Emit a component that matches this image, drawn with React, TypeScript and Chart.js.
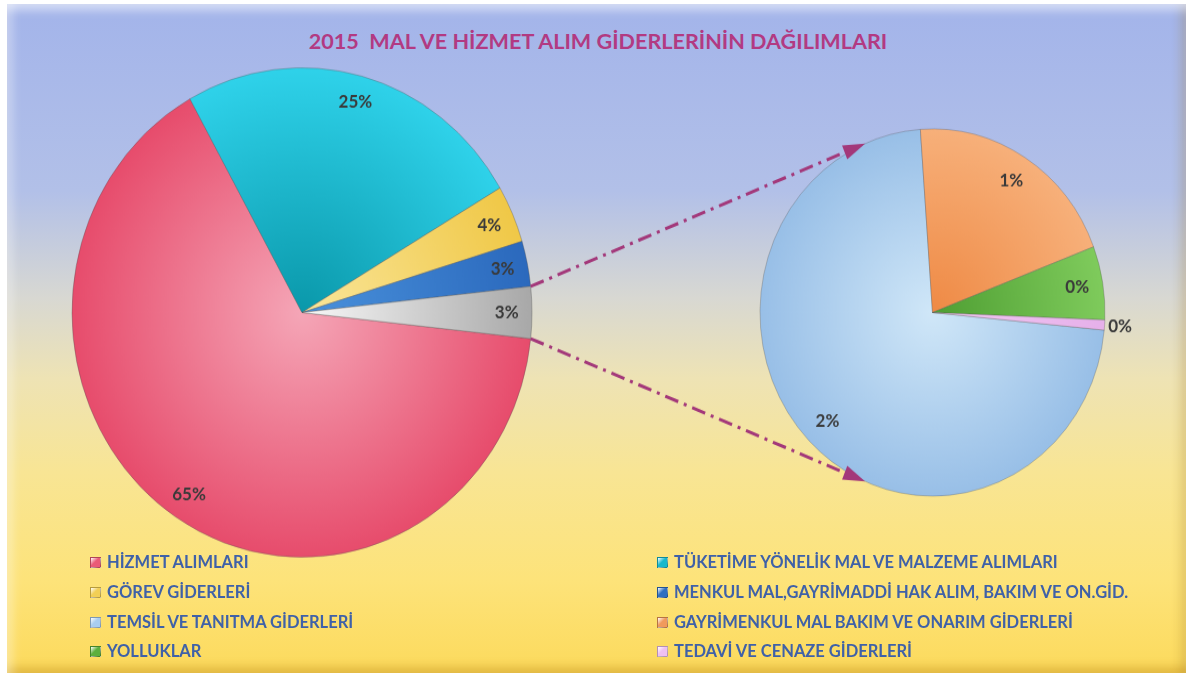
import { useEffect, useRef } from "react";
import { Chart, registerables } from "chart.js";

Chart.register(...registerables);

// ---------- DATA ----------
const TITLE = "2015  MAL VE HİZMET ALIM GİDERLERİNİN DAĞILIMLARI";

const MAIN_LABELS = [
  "HİZMET ALIMLARI",
  "TÜKETİME YÖNELİK MAL VE MALZEME ALIMLARI",
  "GÖREV GİDERLERİ",
  "MENKUL MAL,GAYRİMADDİ HAK ALIM, BAKIM VE ON.GİD.",
];
const MAIN_VALUES = [65.2, 24.6, 3.8, 3.0];

const SUB_LABELS = [
  "TEMSİL VE TANITMA GİDERLERİ",
  "GAYRİMENKUL MAL BAKIM VE ONARIM GİDERLERİ",
  "YOLLUKLAR",
  "TEDAVİ VE CENAZE GİDERLERİ",
];
const SUB_VALUES = [2.46, 0.69, 0.22, 0.03];

const OTHER_LABEL = "Diğer";

// ---------- STYLE ----------
const MAIN_INNER = ["#f5a6b7", "#0a98aa", "#fae69a", "#4a92dc", "#f8f8f8"];
const MAIN_OUTER = ["#e74c6c", "#2fd2ea", "#f0c847", "#2b69bd", "#a8a8a8"];
const MAIN_BASE = ["#ea5b77", "#17b8cc", "#f2cf55", "#2f6fc0", "#c8c8c8"];
const SUB_INNER = ["#d0e7f8", "#ef8a45", "#4e9e32", "#f3caf3"];
const SUB_OUTER = ["#98bfe7", "#f7b07a", "#7fcb5c", "#e6b0ea"];
const SUB_BASE = ["#a9cdf0", "#f09a5c", "#5daf3d", "#efc0f2"];

const W = 1188;
const H = 674;
const STRETCH = 1.064;
const CY = 312.5;
const MAIN_CX = 302;
const MAIN_R = 230;
const SUB_CX = 932.5;
const SUB_R = 172.5;
const SUB_ROTATION = 95.5;
const LINK_ANGLE = 113;
const LINE_COLOR = "#a3387a";

const sum = (a: number[]) => a.reduce((s, v) => s + v, 0);
const OTHER_VALUE = sum(SUB_VALUES);
const TOTAL = sum(MAIN_VALUES) + OTHER_VALUE;

function radialFill(inner: string[], outer: string[], R: number) {
  return (c: any) => {
    const chart = c.chart;
    const area = chart.chartArea;
    if (!area) return outer[c.dataIndex];
    const cx = (area.left + area.right) / 2;
    const cy = (area.top + area.bottom) / 2;
    const g = chart.ctx.createRadialGradient(cx, cy, 0, cx, cy, R);
    g.addColorStop(0, inner[c.dataIndex]);
    g.addColorStop(1, outer[c.dataIndex]);
    return g;
  };
}

function pctPlugin(id: string, factor: (share: number) => number) {
  return {
    id,
    afterDatasetsDraw(chart: any) {
      const ctx = chart.ctx;
      const meta = chart.getDatasetMeta(0);
      const data = chart.data.datasets[0].data as number[];
      const localTotal = sum(data);
      ctx.save();
      ctx.font = "bold 17px Lato";
      ctx.fillStyle = "#3a3a3a";
      ctx.textAlign = "center";
      ctx.textBaseline = "middle";
      meta.data.forEach((arc: any, i: number) => {
        const { x, y, startAngle, endAngle, outerRadius } = arc.getProps(
          ["x", "y", "startAngle", "endAngle", "outerRadius"],
          true
        );
        const mid = (startAngle + endAngle) / 2;
        const f = factor(data[i] / localTotal);
        const text = Math.round((data[i] / TOTAL) * 100) + "%";
        ctx.fillText(text, x + Math.cos(mid) * outerRadius * f, y + Math.sin(mid) * outerRadius * f);
      });
      ctx.restore();
    },
  };
}

export default function App() {
  const mainRef = useRef<HTMLCanvasElement | null>(null);
  const subRef = useRef<HTMLCanvasElement | null>(null);

  useEffect(() => {
    if (!mainRef.current || !subRef.current) return;
    const otherShareDeg = (OTHER_VALUE / TOTAL) * 360;
    const main = new Chart(mainRef.current, {
      type: "pie",
      data: {
        labels: [...MAIN_LABELS, OTHER_LABEL],
        datasets: [
          {
            data: [...MAIN_VALUES, OTHER_VALUE],
            backgroundColor: radialFill(MAIN_INNER, MAIN_OUTER, MAIN_R) as any,
            borderColor: "rgba(80,80,80,0.35)",
            borderWidth: 1,
            rotation: 90 + otherShareDeg / 2,
            radius: MAIN_R,
          } as any,
        ],
      },
      options: {
        responsive: false,
        animation: false,
        events: [],
        layout: {
          padding: {
            left: MAIN_CX - 240,
            right: W - (MAIN_CX + 240),
            top: CY - 240,
            bottom: H - (CY + 240),
          },
        },
        plugins: { legend: { display: false }, tooltip: { enabled: false }, title: { display: false } },
      },
      plugins: [pctPlugin("pctMain", () => 0.89)],
    });

    const linkPlugin = {
      id: "links",
      afterDatasetsDraw(chart: any) {
        const gray: any = main.getDatasetMeta(0).data[MAIN_VALUES.length];
        const sub: any = chart.getDatasetMeta(0).data[0];
        if (!gray || !sub) return;
        const g = gray.getProps(["x", "y", "startAngle", "endAngle", "outerRadius"], true);
        const s = sub.getProps(["x", "y", "outerRadius"], true);
        const ctx = chart.ctx;
        const pairs = [
          [g.startAngle, -LINK_ANGLE],
          [g.endAngle, LINK_ANGLE],
        ];
        ctx.save();
        for (const [a0, a1deg] of pairs) {
          const a1 = (a1deg * Math.PI) / 180;
          const x0 = g.x + Math.cos(a0) * g.outerRadius;
          const y0 = g.y + Math.sin(a0) * g.outerRadius;
          const x1 = s.x + Math.cos(a1) * s.outerRadius;
          const y1 = s.y + Math.sin(a1) * s.outerRadius;
          const ang = Math.atan2(y1 - y0, x1 - x0);
          const len = 22;
          const bx = x1 - Math.cos(ang) * len;
          const by = y1 - Math.sin(ang) * len;
          ctx.strokeStyle = LINE_COLOR;
          ctx.lineWidth = 3;
          ctx.setLineDash([14, 6, 3, 6]);
          ctx.beginPath();
          ctx.moveTo(x0, y0);
          ctx.lineTo(bx, by);
          ctx.stroke();
          ctx.setLineDash([]);
          ctx.fillStyle = LINE_COLOR;
          ctx.beginPath();
          ctx.moveTo(x1, y1);
          ctx.lineTo(bx + Math.cos(ang + Math.PI / 2) * 7, by + Math.sin(ang + Math.PI / 2) * 7);
          ctx.lineTo(bx + Math.cos(ang - Math.PI / 2) * 7, by + Math.sin(ang - Math.PI / 2) * 7);
          ctx.closePath();
          ctx.fill();
        }
        ctx.restore();
      },
    };

    const sub = new Chart(subRef.current, {
      type: "pie",
      data: {
        labels: SUB_LABELS,
        datasets: [
          {
            data: SUB_VALUES,
            backgroundColor: radialFill(SUB_INNER, SUB_OUTER, SUB_R) as any,
            borderColor: "rgba(80,80,80,0.3)",
            borderWidth: 1,
            rotation: SUB_ROTATION,
            radius: SUB_R,
          } as any,
        ],
      },
      options: {
        responsive: false,
        animation: false,
        events: [],
        layout: {
          padding: {
            left: SUB_CX - 180,
            right: W - (SUB_CX + 180),
            top: CY - 180,
            bottom: H - (CY + 180),
          },
        },
        plugins: { legend: { display: false }, tooltip: { enabled: false }, title: { display: false } },
      },
      plugins: [pctPlugin("pctSub", (share) => (share < 0.02 ? 1.09 : 0.85)), linkPlugin],
    });

    return () => {
      sub.destroy();
      main.destroy();
    };
  }, []);

  const legendItems = [
    ...MAIN_LABELS.map((l, i) => ({ label: l, color: MAIN_BASE[i] })),
    ...SUB_LABELS.map((l, i) => ({ label: l, color: SUB_BASE[i] })),
  ];
  const rowY = [562, 592, 622, 651];
  const colX = [90, 657];

  const canvasStyle: any = {
    position: "absolute",
    left: 0,
    top: 0,
    width: W,
    height: H,
    transform: `scaleY(${STRETCH})`,
    transformOrigin: `0 ${CY}px`,
  };

  return (
    <div style={{ position: "fixed", left: 0, top: 0, width: W, height: H, background: "#ffffff", overflow: "hidden" }}>
      <div
        style={{
          position: "absolute",
          left: 7,
          top: 4,
          width: 1179,
          height: 669,
          background:
            "linear-gradient(180deg, #a3b4ea 0%, #b2c0e8 28%, #d8d8d2 44%, #eee3b4 56%, #f8e594 70%, #fde37a 86%, #fcda5c 100%)",
          boxShadow:
            "inset 0 12px 10px -6px rgba(255,255,255,0.55), inset 12px 0 10px -6px rgba(255,255,255,0.35), inset 0 -12px 10px -6px rgba(170,110,0,0.30), inset -12px 0 10px -6px rgba(150,110,30,0.22)",
        }}
      />
      <div
        style={{
          position: "absolute",
          left: 0,
          top: 29,
          width: 1196,
          textAlign: "center",
          font: "bold 21.6px Lato",
          lineHeight: "24px",
          color: "#b23a82",
          whiteSpace: "pre",
        }}
      >
        {TITLE}
      </div>
      <canvas ref={mainRef} width={W} height={H} style={canvasStyle} />
      <canvas ref={subRef} width={W} height={H} style={canvasStyle} />
      {legendItems.map((it, i) => {
        const col = i % 2;
        const row = Math.floor(i / 2);
        return (
          <div
            key={it.label}
            style={{ position: "absolute", left: colX[col], top: rowY[row] - 10, height: 20, display: "flex", alignItems: "center" }}
          >
            <span
              style={{
                display: "inline-block",
                width: 9,
                height: 9,
                border: "1px solid rgba(0,0,0,0.25)",
                background: `linear-gradient(135deg, #ffffff 0%, ${it.color} 45%, ${it.color} 100%)`,
                marginRight: 6,
              }}
            />
            <span style={{ font: "bold 16.5px Lato", color: "#3f61a8", whiteSpace: "nowrap", lineHeight: "20px" }}>{it.label}</span>
          </div>
        );
      })}
    </div>
  );
}
